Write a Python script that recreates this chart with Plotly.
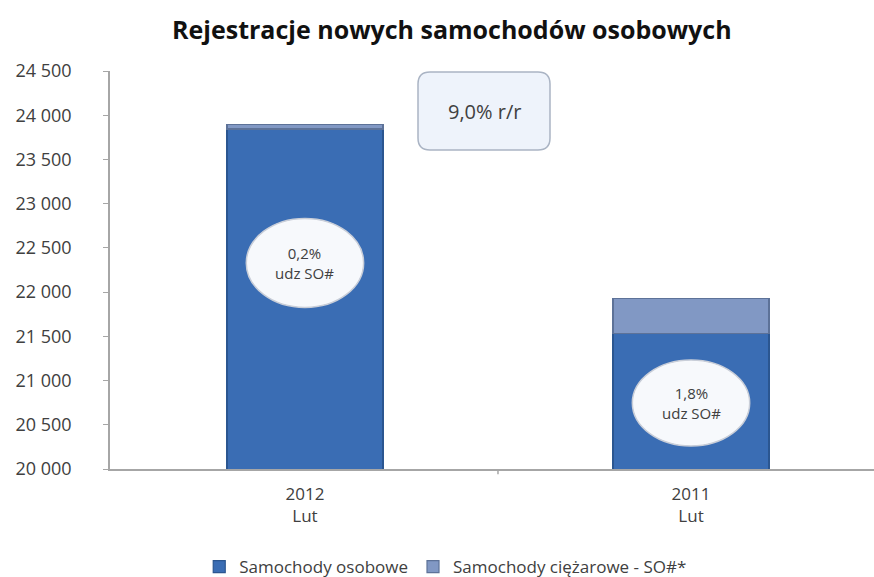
import plotly.graph_objects as go

categories = ["2012<br>Lut", "2011<br>Lut"]
osobowe = [23845, 21530]
ciezarowe = [46, 395]
share_labels = ["0,2%<br>udz SO#", "1,8%<br>udz SO#"]
yoy_label = "9,0% r/r"
series_names = ["Samochody osobowe", "Samochody ciężarowe - SO#*"]
ytick_vals = list(range(20000, 24501, 500))

FONT = "Open Sans"
W, H = 874, 577
L, R, T, B = 110, 0, 71, 108

fig = go.Figure()
fig.add_trace(go.Bar(
    x=[0, 1], y=osobowe, name=series_names[0], width=0.404,
    marker=dict(color="#3a6db4", line=dict(color="#2b5690", width=1.2)),
))
fig.add_trace(go.Bar(
    x=[0, 1], y=ciezarowe, name=series_names[1], width=0.404,
    marker=dict(color="#8198c4", line=dict(color="#5d7298", width=1.2)),
))

# ellipses with share labels
ell_centers = [22330, 20747]
ell_half_h = [503, 486]
for i, (cy, hh, lab) in enumerate(zip(ell_centers, ell_half_h, share_labels)):
    fig.add_shape(type="circle", xref="x", yref="y",
                  x0=i - 0.152, x1=i + 0.152, y0=cy - hh, y1=cy + hh,
                  fillcolor="#f7f9fc", line=dict(color="#c9ced8", width=1.5), layer="above")
    fig.add_annotation(x=i, y=cy, xref="x", yref="y", text=lab, showarrow=False,
                       xanchor="center", yanchor="middle",
                       font=dict(family=FONT, size=15, color="#404040"), align="center")

# rounded box for yoy
def pxx(px):
    return (px - L) / (W - L - R)
def pxy(py):
    return (H - B - py) / (H - T - B)

x0, x1, y0, y1, r = 418, 550, 72, 150, 12
path = (f"M {pxx(x0+r)} {pxy(y0)} L {pxx(x1-r)} {pxy(y0)} Q {pxx(x1)} {pxy(y0)} {pxx(x1)} {pxy(y0+r)} "
        f"L {pxx(x1)} {pxy(y1-r)} Q {pxx(x1)} {pxy(y1)} {pxx(x1-r)} {pxy(y1)} "
        f"L {pxx(x0+r)} {pxy(y1)} Q {pxx(x0)} {pxy(y1)} {pxx(x0)} {pxy(y1-r)} "
        f"L {pxx(x0)} {pxy(y0+r)} Q {pxx(x0)} {pxy(y0)} {pxx(x0+r)} {pxy(y0)} Z")
fig.add_shape(type="path", xref="paper", yref="paper", path=path,
              fillcolor="#eef3fb", line=dict(color="#aab4c4", width=1.5), layer="above")
fig.add_annotation(x=pxx((x0 + x1) / 2), y=pxy((y0 + y1) / 2), xref="paper", yref="paper",
                   text=yoy_label, showarrow=False, xanchor="center", yanchor="middle",
                   font=dict(family=FONT, size=20, color="#404040"))

fig.update_layout(
    width=W, height=H,
    margin=dict(l=L, r=R, t=T, b=B),
    barmode="stack",
    separators=", ",
    plot_bgcolor="white", paper_bgcolor="white",
    title=dict(text="<b>Rejestracje nowych samochodów osobowych</b>", x=0.517, xanchor="center",
               y=1 - 30 / H, yanchor="middle", xref="container", yref="container",
               font=dict(family=FONT, size=25, color="#111111")),
    font=dict(family=FONT, size=17, color="#404040"),
    xaxis=dict(tickmode="array", tickvals=[0, 1], ticktext=categories, range=[-0.505, 1.474],
               showline=True, linecolor="#a6a6a6", linewidth=1.5, showgrid=False,
               ticks="", tickfont=dict(size=17, color="#404040"), zeroline=False,
               ticklabelstandoff=9),
    yaxis=dict(range=[20000, 24500], tickvals=ytick_vals, tickformat=",d",
               showline=True, linecolor="#a6a6a6", linewidth=1.5, showgrid=False,
               ticks="outside", ticklen=5, tickcolor="#a6a6a6", zeroline=False,
               tickfont=dict(size=18, color="#404040"), ticklabelstandoff=28),
    legend=dict(orientation="h", xref="container", yref="container", x=0.51, xanchor="center",
                y=1 - 567 / H, yanchor="middle", font=dict(family=FONT, size=17, color="#404040"),
                itemwidth=30, traceorder="normal"),
    bargap=0.2,
)
# divider tick between categories
fig.add_shape(type="line", xref="x", yref="paper", x0=0.5, x1=0.5, y0=0, y1=-0.013,
              line=dict(color="#a6a6a6", width=1.5))

fig.write_html("out.html")
